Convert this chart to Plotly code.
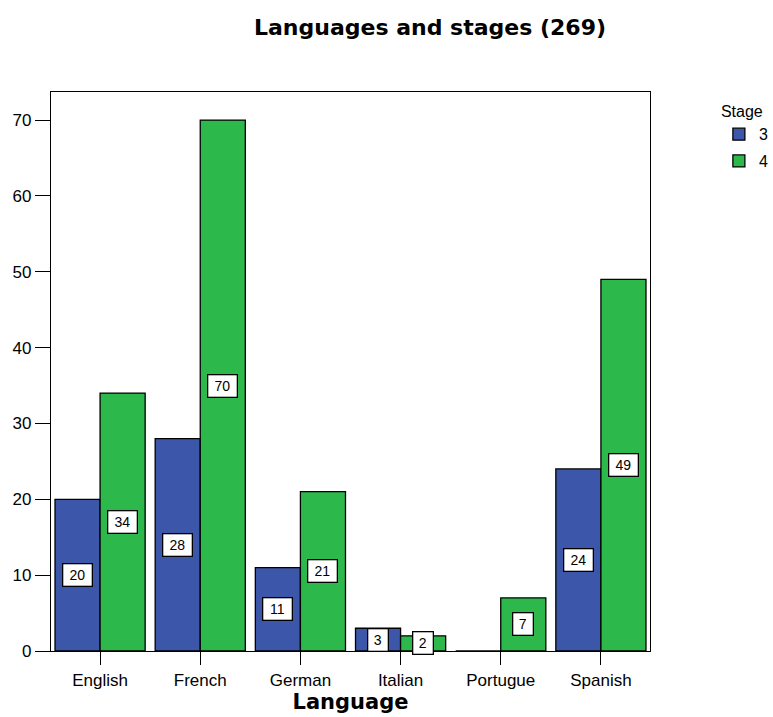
import plotly.graph_objects as go

# Counts of students per language, split by stage
languages = ["English", "French", "German", "Italian", "Portugue", "Spanish"]
stage3 = [20, 28, 11, 3, 0, 24]
stage4 = [34, 70, 21, 2, 7, 49]
y_ticks = [0, 10, 20, 30, 40, 50, 60, 70]

BLUE = "#3C56A9"
GREEN = "#2DB84B"
FONT = "Liberation Sans, Arial, sans-serif"
TITLE_FONT = "DejaVu Sans, Liberation Sans, sans-serif"

fig = go.Figure()
fig.add_trace(go.Bar(name="3", x=languages, y=stage3, legendgroup="s3",
                     marker=dict(color=BLUE, line=dict(color="black", width=1.3))))
fig.add_trace(go.Bar(name="4", x=languages, y=stage4, legendgroup="s4",
                     marker=dict(color=GREEN, line=dict(color="black", width=1.3))))

# Value labels in white boxes at mid-height of each bar
annotations = []
for values, shift in ((stage3, -22.5), (stage4, 22.5)):
    for lang, v in zip(languages, values):
        if v == 0:
            continue
        label = str(v)
        annotations.append(dict(
            x=lang, y=v / 2, xref="x", yref="y", text=label, showarrow=False,
            xshift=shift, font=dict(family=FONT, size=14, color="black"),
            width=4 + 9 * len(label), height=15, align="center", valign="middle",
            bgcolor="white", bordercolor="black", borderwidth=1.3, borderpad=3,
        ))

fig.update_layout(
    width=773, height=717,
    margin=dict(l=51, r=123, t=92, b=66, autoexpand=False),
    paper_bgcolor="white", plot_bgcolor="white",
    barmode="group", bargap=0.1, bargroupgap=0,
    font=dict(family=FONT, size=17, color="black"),
    title=dict(text="<b>Languages and stages (269)</b>", x=430 / 773, xanchor="center",
               y=1 - 27 / 717, yanchor="middle", font=dict(size=22, family=TITLE_FONT)),
    legend=dict(title=dict(text="Stage", font=dict(size=16)), x=1.115, xanchor="left",
                y=0.992, yanchor="top", font=dict(size=16), bgcolor="rgba(0,0,0,0)",
                itemwidth=30, tracegroupgap=3),
    annotations=annotations,
    showlegend=True,
)
fig.update_xaxes(
    type="category", range=[-0.49, 5.49], showline=True, mirror=True, linecolor="black", linewidth=1.3,
    ticks="outside", ticklen=13, tickcolor="black", tickwidth=1.3, showgrid=False,
    tickfont=dict(size=17),
    title=dict(text="<b>Language</b>", font=dict(size=21, family=TITLE_FONT), standoff=4),
)
fig.update_yaxes(
    range=[0, 73.7], tickvals=y_ticks, showline=True, mirror=True, linecolor="black", linewidth=1.3,
    ticks="outside", ticklen=15, tickcolor="black", tickwidth=1.3, showgrid=False, zeroline=False,
    tickfont=dict(size=17),
)

fig.write_html("out.html")
